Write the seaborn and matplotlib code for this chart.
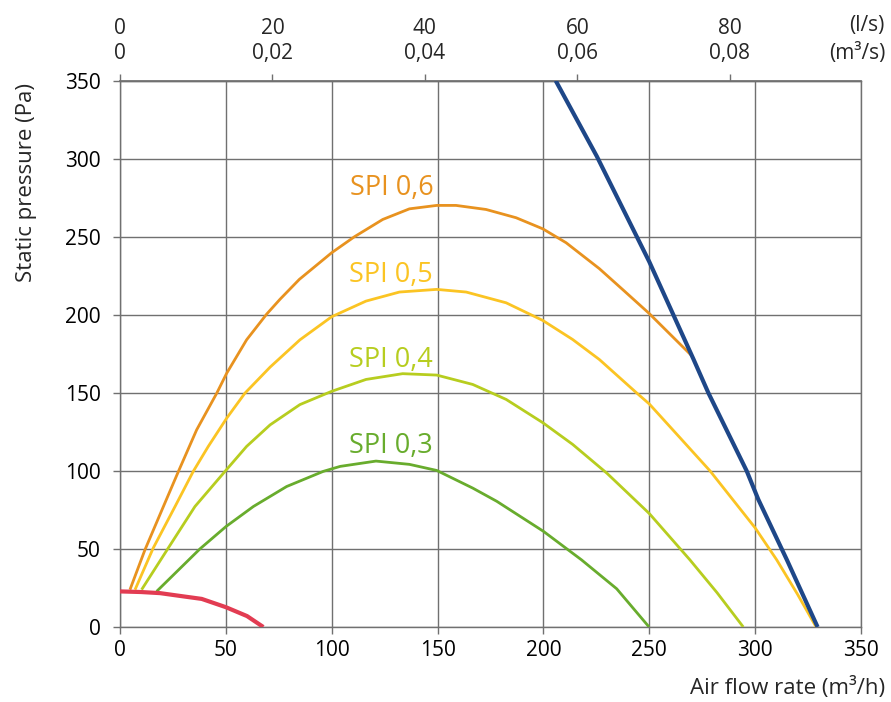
import matplotlib
matplotlib.use("Agg")
import matplotlib.pyplot as plt
import seaborn as sns
import pandas as pd

# ---- data ----
spi06_x = [4.7, 11.8, 20.5, 27.6, 36.2, 45.7, 50.4, 59.8, 69.3, 75.6, 84.7, 100, 110.7, 124.1,
           136.7, 149.6, 158.7, 172.9, 187.1, 199.7, 210.7, 226.4, 238, 250, 269.6]
spi06_y = [23.9, 49.5, 77.2, 99.7, 126.3, 149.8, 162.6, 184, 200.5, 210, 222.7, 239.8, 250, 261.1,
           267.9, 270.1, 270.1, 267.5, 262.2, 255.1, 246.2, 229.6, 215.5, 200.8, 174.4]

spi05_x = [7.1, 15.7, 26, 34.6, 41.7, 50.4, 59, 70.9, 85, 100, 116.2, 132, 149.6, 163.5, 182.4,
           199.7, 213.8, 226.4, 244, 250, 264, 278.7, 300, 310.2, 320, 328.8]
spi05_y = [23.9, 50.6, 77.2, 99.7, 115.7, 133.8, 149.8, 166.5, 184, 198.8, 208.8, 214.6, 216.3, 214.6, 207.7,
           196.4, 184.2, 171.4, 150, 142.9, 122, 100, 63.5, 43, 21, 0]

spi04_x = [10.2, 22.8, 35.4, 49.6, 59.8, 70.9, 85, 100, 116.2, 133.5, 149.6, 166.6, 182.4, 199.7,
           213.8, 230, 250, 269.2, 282, 294.4]
spi04_y = [23.9, 50.6, 77.2, 99.7, 115.7, 129.5, 142.5, 151, 158.6, 162.3, 161.4, 155.4, 145.8, 130.9,
           117, 98.5, 72.7, 43, 22, 0]

spi03_x = [17.3, 37.8, 50.1, 63, 78.7, 96, 104, 120.9, 136.7, 149.6, 166.6, 178, 200, 218, 234.6, 249.9]
spi03_y = [22.8, 50.1, 64.4, 77.2, 90, 99.7, 102.9, 106.3, 104.2, 100.3, 89, 80.5, 61.3, 43, 24.5, 0]

fan_x = [205.8, 225.2, 250, 270.8, 277.9, 296, 301.5, 315, 329.5]
fan_y = [350, 301.6, 234, 171.8, 150, 100, 81.7, 43, 0]

sys_x = [0, 10, 18.9, 30, 38.6, 50, 60, 67.7]
sys_y = [22.8, 22.4, 21.7, 19.6, 18, 12.7, 7, 0]

spi_labels = ["SPI 0,6", "SPI 0,5", "SPI 0,4", "SPI 0,3"]
label_y = [276.7, 221.2, 166.8, 111.3]
label_x = 147.9

x_ticks = [0, 50, 100, 150, 200, 250, 300, 350]
y_ticks = [0, 50, 100, 150, 200, 250, 300, 350]
top_ticks_ls = [0, 20, 40, 60, 80]
top_labels = ["0\n0", "20\n0,02", "40\n0,04", "60\n0,06", "80\n0,08"]

colors = {
    "SPI 0,6": "#E8921F",
    "SPI 0,5": "#FBC423",
    "SPI 0,4": "#B7CD1F",
    "SPI 0,3": "#68AC2D",
    "fan": "#1E4788",
    "system": "#E23C52",
}

# ---- style ----
sns.set_theme(style="white")
plt.rcParams["font.family"] = ["Open Sans", "DejaVu Sans"]
GRID = "#707070"

fig = plt.figure(figsize=(8.91, 7.02), dpi=100)
ax = fig.add_axes([120 / 891, 1 - 627 / 702, 741 / 891, (627 - 80.7) / 702])

series = [
    ("SPI 0,6", spi06_x, spi06_y, 2.0),
    ("SPI 0,5", spi05_x, spi05_y, 2.0),
    ("SPI 0,4", spi04_x, spi04_y, 2.0),
    ("SPI 0,3", spi03_x, spi03_y, 2.0),
    ("fan", fan_x, fan_y, 3.0),
    ("system", sys_x, sys_y, 3.0),
]
for name, xs, ys, lw in series:
    df = pd.DataFrame({"x": xs, "y": ys})
    sns.lineplot(data=df, x="x", y="y", ax=ax, color=colors[name], linewidth=lw,
                 estimator=None, sort=False, zorder=5, solid_capstyle="butt",
                 solid_joinstyle="round")

for txt, yy in zip(spi_labels, label_y):
    ax.text(label_x, yy, txt, ha="right", va="baseline", fontsize=19.5,
            color=colors[txt], zorder=4,
            bbox=dict(boxstyle="square,pad=0.12", fc="white", ec="none"))

ax.set_xlim(0, 350)
ax.set_ylim(0, 350)
ax.set_xticks(x_ticks)
ax.set_yticks(y_ticks)
ax.set_xlabel("")
ax.set_ylabel("")
ax.grid(True, color=GRID, linewidth=1.0)
ax.set_axisbelow(True)
for s in ax.spines.values():
    s.set_color(GRID)
    s.set_linewidth(1.0)
ax.tick_params(axis="both", which="both", direction="out", length=5, width=1,
               color=GRID, labelsize=15, labelcolor="black")
ax.tick_params(axis="x", pad=4, bottom=True)
ax.tick_params(axis="y", pad=9, left=True)

sec = ax.secondary_xaxis("top", functions=(lambda v: v / 3.6, lambda v: v * 3.6))
sec.set_xticks(top_ticks_ls)
sec.set_xticklabels(top_labels, linespacing=1.25)
sec.tick_params(axis="x", direction="out", length=5, width=1, color=GRID,
                labelsize=15, pad=7)
sec.spines["top"].set_color(GRID)

fig.text(885 / 891, 1 - 25 / 702, "(l/s)", ha="right", va="center", fontsize=15)
fig.text(885 / 891, 1 - 53 / 702, "(m³/s)", ha="right", va="center", fontsize=15)
fig.text(27 / 891, 1 - 182.5 / 702, "Static pressure (Pa)", rotation=90,
         ha="center", va="center", fontsize=16)
fig.text(885 / 891, 1 - 688 / 702, "Air flow rate (m³/h)", ha="right",
         va="center", fontsize=16)

fig.savefig("out.png", dpi=100, facecolor="white")
